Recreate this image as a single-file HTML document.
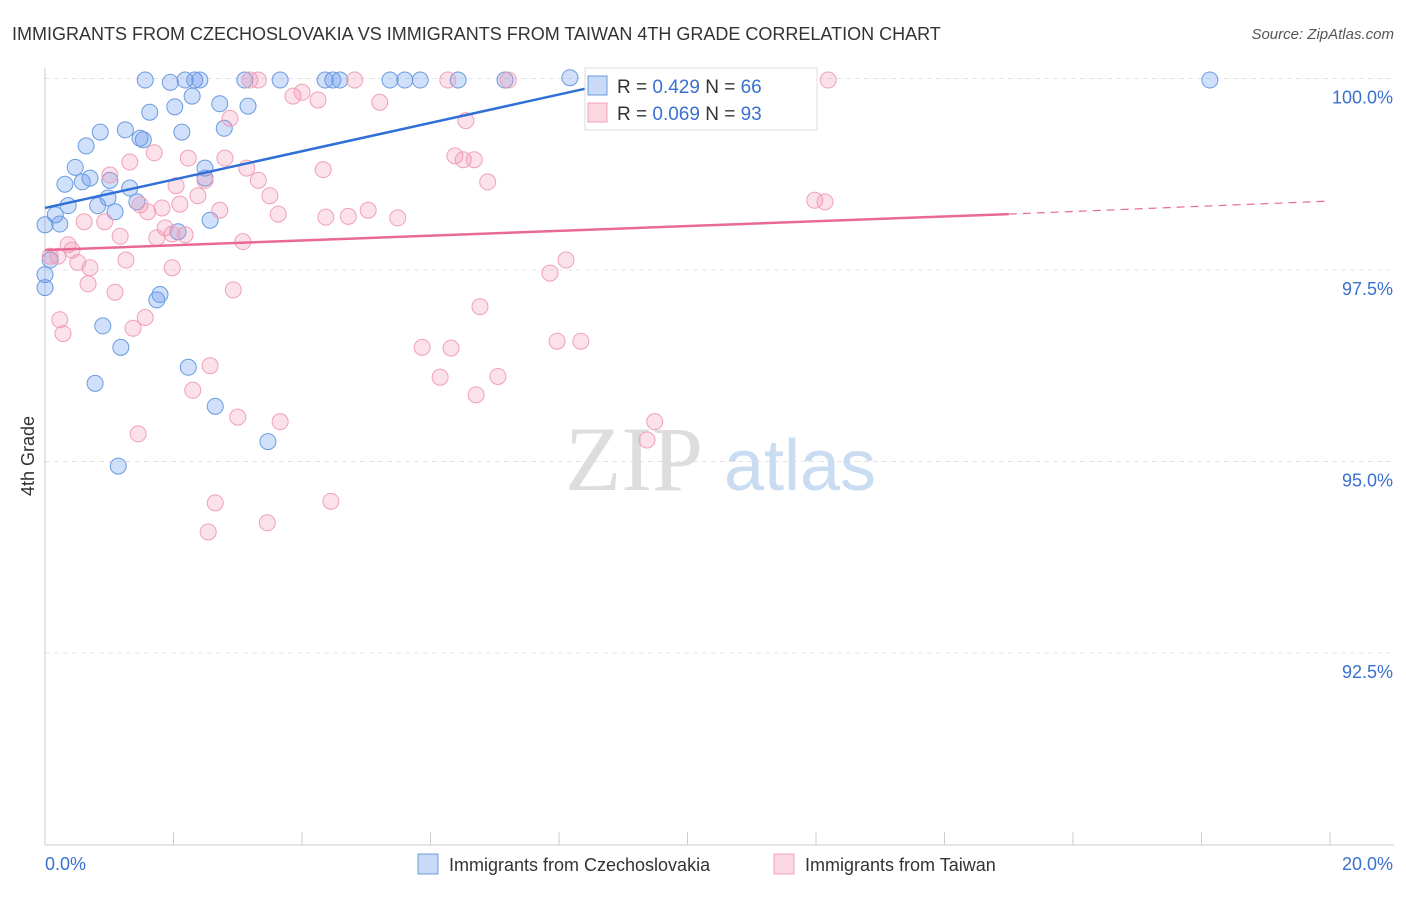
<!DOCTYPE html>
<html><head><meta charset="utf-8"><style>
body{margin:0;background:#fff;font-family:"Liberation Sans",sans-serif}
</style></head><body>
<svg width="1406" height="892" viewBox="0 0 1406 892" xmlns="http://www.w3.org/2000/svg">
<text x="12" y="40" font-size="18" fill="#333">IMMIGRANTS FROM CZECHOSLOVAKIA VS IMMIGRANTS FROM TAIWAN 4TH GRADE CORRELATION CHART</text>
<text x="1394" y="39" font-size="15" fill="#555" font-style="italic" text-anchor="end">Source: ZipAtlas.com</text>
<g id="grid"></g>
<g><text x="634" y="490" font-size="92" fill="#ddd" text-anchor="middle" font-family="Liberation Serif,serif">ZIP</text><text x="800" y="490" font-size="72" fill="#c9dcf2" text-anchor="middle">atlas</text></g>
<g id="axes"></g>
<g id="pts"></g>
<g id="lines"></g>
<text transform="translate(34,456) rotate(-90)" font-size="18" fill="#333" text-anchor="middle">4th Grade</text>
<g>
<rect x="585" y="68" width="232" height="62" fill="#fff" stroke="#ddd"/>
<rect x="588" y="76" width="19" height="19" fill="rgba(100,149,237,0.35)" stroke="#6a9be0"/>
<text x="617" y="93" font-size="19" fill="#333">R = <tspan fill="#3a70d0">0.429</tspan>   N = <tspan fill="#3a70d0">66</tspan></text>
<rect x="588" y="103" width="19" height="19" fill="rgba(240,140,170,0.35)" stroke="#f0a0b8"/>
<text x="617" y="120" font-size="19" fill="#333">R = <tspan fill="#3a70d0">0.069</tspan>   N = <tspan fill="#3a70d0">93</tspan></text>
</g>
<g>
<rect x="418" y="854" width="20" height="20" fill="rgba(100,149,237,0.35)" stroke="#6a9be0"/>
<text x="449" y="871" font-size="18" fill="#333">Immigrants from Czechoslovakia</text>
<rect x="774" y="854" width="20" height="20" fill="rgba(240,140,170,0.35)" stroke="#f0a0b8"/>
<text x="805" y="871" font-size="18" fill="#333">Immigrants from Taiwan</text>
</g>
</svg>
<script>
const blueData=[[1.56,99.98],[1.95,99.95],[2.18,99.98],[2.33,99.98],[2.41,99.98],[3.11,99.98],[3.66,99.98],[4.36,99.98],[4.48,99.98],[4.59,99.98],[5.37,99.98],[5.60,99.98],[5.84,99.98],[6.43,99.98],[7.16,99.98],[8.17,100.01],[9.54,100.01],[18.13,99.98],[1.63,99.56],[2.02,99.63],[2.29,99.77],[2.72,99.67],[3.16,99.64],[0.86,99.30],[1.25,99.33],[1.48,99.22],[1.53,99.20],[2.13,99.30],[2.79,99.35],[0.64,99.12],[0.47,98.84],[2.49,98.83],[0.31,98.62],[0.58,98.65],[0.70,98.70],[1.01,98.67],[1.32,98.57],[2.49,98.70],[0.98,98.44],[1.43,98.39],[0.36,98.34],[0.82,98.34],[1.09,98.26],[0.16,98.22],[0.23,98.10],[2.57,98.15],[2.07,98.00],[0.08,97.63],[0,97.44],[0,97.27],[1.79,97.18],[1.74,97.11],[0.90,96.77],[1.18,96.49],[2.23,96.23],[0.78,96.02],[2.65,95.72],[3.47,95.26],[1.14,94.94],[0,98.09]];
const pinkData=[[3.19,99.98],[3.32,99.98],[4.82,99.98],[6.27,99.98],[7.21,99.98],[12.19,99.98],[3.86,99.77],[4.00,99.82],[4.25,99.72],[5.21,99.69],[2.88,99.48],[6.55,99.45],[1.70,99.03],[1.32,98.91],[2.23,98.96],[2.80,98.96],[6.38,98.99],[6.51,98.94],[6.68,98.94],[4.33,98.81],[3.14,98.83],[1.01,98.74],[2.04,98.60],[2.49,98.67],[3.32,98.67],[6.89,98.65],[3.50,98.47],[2.38,98.47],[1.48,98.35],[1.60,98.26],[1.82,98.31],[2.10,98.36],[2.72,98.28],[3.63,98.23],[4.37,98.19],[4.72,98.20],[5.03,98.28],[5.49,98.18],[11.98,98.41],[12.14,98.39],[0.61,98.13],[0.93,98.13],[1.87,98.05],[1.98,97.97],[2.18,97.96],[1.17,97.94],[1.74,97.92],[3.08,97.87],[0.36,97.83],[0.42,97.76],[0.08,97.68],[0.20,97.68],[0.51,97.60],[1.26,97.63],[0.70,97.53],[1.98,97.53],[7.86,97.46],[8.11,97.63],[0.67,97.32],[1.09,97.21],[2.93,97.24],[6.77,97.02],[0.23,96.85],[0.28,96.67],[1.56,96.88],[1.37,96.74],[5.87,96.49],[6.32,96.48],[7.97,96.57],[8.34,96.57],[2.57,96.25],[6.15,96.10],[7.05,96.11],[2.30,95.93],[6.71,95.87],[3.00,95.58],[3.66,95.52],[9.49,95.52],[9.37,95.28],[1.45,95.36],[2.65,94.46],[4.45,94.48],[3.46,94.20],[2.54,94.08]];
const blueTrend=[[0,98.31],[9.4,100.05]];
const pinkTrend=[[0,97.76],[15,98.23],[20,98.40]];
const yTicks=[100,97.5,95,92.5];
const yTickLabels=["100.0%","97.5%","95.0%","92.5%"];
const xTicks=[0,2,4,6,8,10,12,14,16,18,20];
const xLabels=[[0,"0.0%"],[20,"20.0%"]];
const NS="http://www.w3.org/2000/svg";
const X=v=>45+v*64.25, Y=v=>78.5+(100-v)*76.6;
function mk(t,a,p){const e=document.createElementNS(NS,t);for(const k in a)e.setAttribute(k,a[k]);p.appendChild(e);return e;}
const grid=document.getElementById('grid'),axes=document.getElementById('axes'),pts=document.getElementById('pts'),lines=document.getElementById('lines');
yTicks.forEach((v,i)=>{const l=mk('line',{x1:45,x2:1394,y1:Y(v),y2:Y(v),stroke:'#e4e4e4','stroke-dasharray':'5,4'},grid);


const t=mk('text',{x:1393,y:Y(v)+25,'font-size':18,fill:'#3a70d0','text-anchor':'end'},axes);t.textContent=yTickLabels[i];

});
mk('line',{x1:45,x2:45,y1:68,y2:845,stroke:'#ccc'},axes);
mk('line',{x1:45,x2:1394,y1:845,y2:845,stroke:'#ccc'},axes);
xTicks.forEach(v=>{const l=mk('line',{x1:X(v),x2:X(v),y1:832,y2:845,stroke:'#ccc'},axes);

});
xLabels.forEach(([v,s],i)=>{const t=mk('text',{x:i?1393:X(v),y:870,'font-size':18,fill:'#3a70d0','text-anchor':i?'end':'start'},axes);t.textContent=s;

});
blueData.forEach(d=>{const c=mk('circle',{cx:X(d[0]),cy:Y(d[1]),r:8,fill:'rgba(100,149,237,0.3)',stroke:'#6a9be0','stroke-width':1},pts);

});
pinkData.forEach(d=>{const c=mk('circle',{cx:X(d[0]),cy:Y(d[1]),r:8,fill:'rgba(240,140,170,0.25)',stroke:'#f0a0b8','stroke-width':1},pts);

});
let b=mk('line',{x1:X(blueTrend[0][0]),y1:Y(blueTrend[0][1]),x2:X(blueTrend[1][0]),y2:Y(blueTrend[1][1]),stroke:'#2f6fd6','stroke-width':2.5},lines);


let p=mk('line',{x1:X(pinkTrend[0][0]),y1:Y(pinkTrend[0][1]),x2:X(pinkTrend[1][0]),y2:Y(pinkTrend[1][1]),stroke:'#e86a94','stroke-width':2.5},lines);


let pd=mk('line',{x1:X(pinkTrend[1][0]),y1:Y(pinkTrend[1][1]),x2:X(pinkTrend[2][0]),y2:Y(pinkTrend[2][1]),stroke:'#e86a94','stroke-width':1.2,'stroke-dasharray':'8,6'},lines);


</script>
</body></html>
